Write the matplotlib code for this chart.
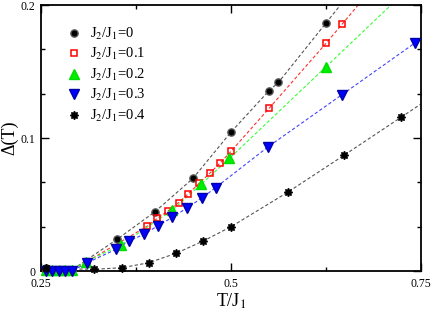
import numpy as np
import matplotlib
matplotlib.use("Agg")
import matplotlib.pyplot as plt
from matplotlib.ticker import MultipleLocator

# ── Data ─────────────────────────────────────────────────────────────
t_j0 = [0.256, 0.265, 0.274, 0.282, 0.291, 0.35, 0.40, 0.45, 0.50, 0.55, 0.5625, 0.625]
d_j0 = [0.002, 0.001, 0.001, 0.001, 0.001, 0.0238, 0.0446, 0.0697, 0.1045, 0.1356, 0.1419, 0.1865]

t_j1 = [0.256, 0.265, 0.274, 0.282, 0.291, 0.31, 0.390, 0.403, 0.417, 0.431, 0.444,
        0.458, 0.472, 0.486, 0.50, 0.55, 0.625, 0.646]
d_j1 = [0.001, 0.001, 0.001, 0.001, 0.001, 0.007, 0.0338, 0.0396, 0.0451, 0.0514, 0.0582,
        0.0659, 0.0735, 0.0814, 0.090, 0.1223, 0.1712, 0.1855]

t_j2 = [0.256, 0.265, 0.274, 0.282, 0.291, 0.309, 0.355, 0.423, 0.461, 0.498, 0.625]
d_j2 = [0.001, 0.001, 0.001, 0.001, 0.001, 0.007, 0.0195, 0.0459, 0.0654, 0.0847, 0.1536]

t_j3 = [0.256, 0.265, 0.274, 0.282, 0.291, 0.3105, 0.3487, 0.366, 0.386, 0.404, 0.423,
        0.4425, 0.462, 0.480, 0.549, 0.646, 0.7425]
d_j3 = [0.0, 0.0, 0.0, 0.0, 0.0, 0.0062, 0.0163, 0.0226, 0.0278, 0.0341, 0.0404,
        0.0476, 0.0551, 0.0628, 0.0935, 0.1326, 0.1717]

t_j4 = [0.2566, 0.3201, 0.3566, 0.3916, 0.4276, 0.4636, 0.50, 0.5745, 0.6491, 0.7237]
d_j4 = [0.002, 0.0013, 0.0025, 0.0062, 0.0133, 0.0226, 0.0333, 0.0592, 0.0872, 0.1156]

labels = ["J$_2$/J$_1$=0", "J$_2$/J$_1$=0.1", "J$_2$/J$_1$=0.2",
          "J$_2$/J$_1$=0.3", "J$_2$/J$_1$=0.4"]

plt.rcParams["font.family"] = ["Liberation Serif", "DejaVu Serif"]
plt.rcParams["mathtext.fontset"] = "stix"

fig = plt.figure(figsize=(4.36, 3.17), dpi=100)
ax = fig.add_axes([0.094, 0.145, 0.8716, 0.839])

series = [
    (t_j0, d_j0, dict(marker="o", color="black", mfc="black", mec="#555555", ms=5.2), "#555555"),
    (t_j1, d_j1, dict(marker="s", color="red", mfc="none", mec="red", ms=4.6, mew=1.1), "#ff3030"),
    (t_j2, d_j2, dict(marker="^", color="#00ee00", mfc="#00ee00", mec="#00dd00", ms=6.5), "#33ff33"),
    (t_j3, d_j3, dict(marker="v", color="blue", mfc="blue", mec="#0000aa", ms=6.5), "#4444ff"),
    (t_j4, d_j4, dict(marker=(8, 1, 0), color="black", mfc="black", mec="black", ms=6), "#555555"),
]

for (t, d, mk, lc), lab in zip(series, labels):
    t = np.array(t)
    d = np.array(d)
    # dashed guide through the points, extended to the right edge
    p = np.polyfit(t[-2:], d[-2:], 1)
    t_ext = np.array([t[-1], 0.75])
    ax.plot(t, d, ls=(0, (3, 2)), lw=0.8, color=lc, zorder=1)
    ax.plot(t_ext, np.polyval(p, t_ext), ls=(0, (3, 2)), lw=0.8, color=lc, zorder=1)
    ax.plot(t, d, ls="none", label=lab, clip_on=False, zorder=3, **mk)

ax.set_xlim(0.25, 0.75)
ax.set_ylim(0, 0.2)
ax.xaxis.set_major_locator(MultipleLocator(0.25))
ax.xaxis.set_minor_locator(MultipleLocator(0.125))
ax.yaxis.set_major_locator(MultipleLocator(0.1))
ax.yaxis.set_minor_locator(MultipleLocator(0.1 / 3))
ax.xaxis.set_major_formatter(plt.FuncFormatter(lambda v, _: f"{v:g}"))
ax.yaxis.set_major_formatter(plt.FuncFormatter(lambda v, _: f"{v:g}"))
ax.tick_params(which="both", direction="in", top=True, right=True,
               labelsize=8.5, width=1.0)
ax.tick_params(axis="x", pad=5)
ax.tick_params(axis="y", pad=4)
ax.tick_params(which="major", length=6)
ax.tick_params(which="minor", length=3)
for s in ax.spines.values():
    s.set_linewidth(1.3)

ax.set_xlabel("T/J$_1$", fontsize=13, labelpad=1)
ax.set_ylabel("Δ(T)", fontsize=13, labelpad=2)

ax.legend(loc="upper left", bbox_to_anchor=(0.04, 0.96), frameon=False,
          fontsize=10.5, handlelength=1.0, handletextpad=0.6,
          labelspacing=0.3, borderpad=0.2)

plt.savefig("out.png", dpi=100)
